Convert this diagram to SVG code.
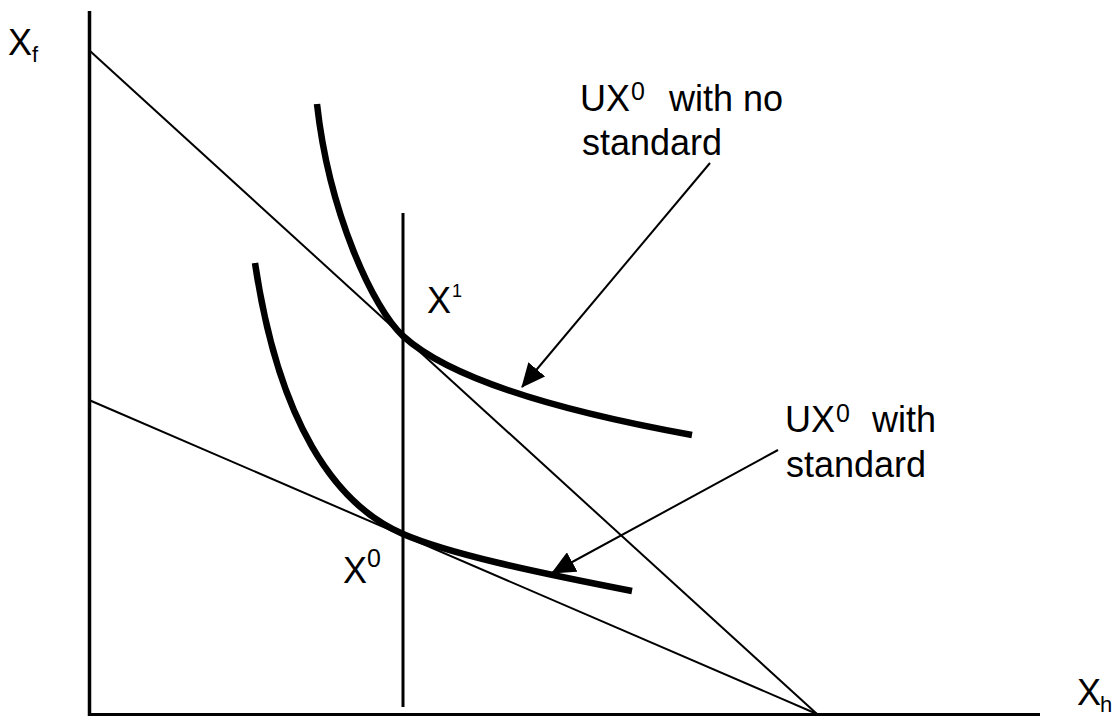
<svg xmlns="http://www.w3.org/2000/svg" width="1120" height="716" viewBox="0 0 1120 716">
<style>
.t{font-family:"Liberation Sans",Arial,sans-serif;font-size:36px;fill:#000}
.sup{font-size:25px}
.sub{font-size:22px}
.ln{stroke:#000;fill:none}
.curve{stroke:#000;fill:none;stroke-width:6.5;stroke-linecap:butt}
</style>
<defs>
<marker id="ah" viewBox="0 0 24 22" markerWidth="24" markerHeight="22" refX="23" refY="11" orient="auto" markerUnits="userSpaceOnUse">
<path d="M0,0 L24,11 L0,22 z" fill="#000"/>
</marker>
</defs>
<rect width="1120" height="716" fill="#fff"/>
<g id="axes">
<line class="ln" x1="89.5" y1="11" x2="89.5" y2="716" stroke-width="3.5"/>
<line class="ln" x1="88" y1="714.5" x2="1040" y2="714.5" stroke-width="3"/>
</g>
<g id="budget-lines">
<line class="ln" x1="90" y1="51" x2="817" y2="714" stroke-width="2"/>
<line class="ln" x1="89" y1="400" x2="817" y2="714" stroke-width="2"/>
<line class="ln" x1="403" y1="213" x2="403" y2="707" stroke-width="3"/>
</g>
<g id="indifference-upper">
<path class="curve" d="M317,104 C329,213 373.4,309 403,336 C447.3,376.4 544.4,408.3 692,435"/>
</g>
<g id="indifference-lower">
<path class="curve" d="M255,263 C278.5,421.2 334.2,504.3 403,534 C448.9,553.8 533.9,571.9 632,591"/>
</g>
<g id="connectors">
<line class="ln" x1="710" y1="163" x2="522" y2="387" stroke-width="2" marker-end="url(#ah)"/>
<line class="ln" x1="778" y1="450" x2="552" y2="573" stroke-width="2" marker-end="url(#ah)"/>
</g>
<g id="label-xf">
<text class="t" x="8" y="55">X</text>
<text class="t sub" x="32" y="62">f</text>
</g>
<g id="label-xh">
<text class="t" x="1077" y="705">X</text>
<text class="t sub" x="1100" y="712">h</text>
</g>
<g id="label-x1">
<text class="t" x="427" y="313">X</text>
<text class="t" x="452" y="297" style="font-size:18px">1</text>
</g>
<g id="label-x0">
<text class="t" x="343" y="583">X</text>
<text class="t sup" x="367" y="567">0</text>
</g>
<g id="label-no-standard">
<text class="t" x="580" y="111">UX</text>
<text class="t sup" x="631" y="100">0</text>
<text class="t" x="669" y="111">with no</text>
<text class="t" x="582" y="155">standard</text>
</g>
<g id="label-standard">
<text class="t" x="785" y="432">UX</text>
<text class="t sup" x="836" y="422">0</text>
<text class="t" x="872" y="432">with</text>
<text class="t" x="786" y="477">standard</text>
</g>
</svg>
